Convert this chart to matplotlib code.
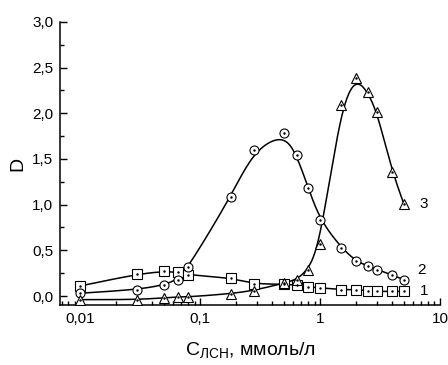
import numpy as np
import matplotlib
matplotlib.use('Agg')
import matplotlib.pyplot as plt
from matplotlib.ticker import FixedLocator, FixedFormatter, MultipleLocator, LogLocator, NullFormatter

plt.rcParams['font.family'] = ['Liberation Sans', 'DejaVu Sans']
plt.rcParams['mathtext.fontset'] = 'custom'
plt.rcParams['mathtext.rm'] = 'Liberation Sans'
plt.rcParams['mathtext.it'] = 'Liberation Sans'

# concentrations, mmol/l
conc = [0.01, 0.03, 0.05, 0.065, 0.08, 0.18, 0.28, 0.5, 0.64, 0.8, 1.0, 1.5, 2.0, 2.5, 3.0, 4.0, 5.0]

# curve 1 (squares)
d1 = [0.11, 0.24, 0.27, 0.26, 0.23, 0.20, 0.13, 0.13, 0.12, 0.10, 0.09, 0.07, 0.07, 0.06, 0.05, 0.05, 0.05]
# curve 2 (circles)
d2 = [0.03, 0.07, 0.12, 0.18, 0.32, 1.08, 1.60, 1.78, 1.54, 1.18, 0.83, 0.53, 0.38, 0.33, 0.29, 0.23, 0.18]
# curve 3 (triangles)
d3 = [-0.04, -0.04, -0.02, -0.01, -0.01, 0.025, 0.06, 0.14, 0.18, 0.29, 0.57, 2.09, 2.39, 2.23, 2.01, 1.36, 1.01]

curve_labels = ['1', '2', '3']
markers = ['s', 'o', '^']


def bspline(x, y, n=30):
    # uniform cubic B-spline with the data points as control points (log x),
    # ends clamped by repeating the end points
    px = np.log10(np.asarray(x, float))
    py = np.asarray(y, float)
    px = np.concatenate([[px[0]] * 2, px, [px[-1]] * 2])
    py = np.concatenate([[py[0]] * 2, py, [py[-1]] * 2])
    t = np.linspace(0, 1, n)
    b0 = (1 - t) ** 3 / 6
    b1 = (3 * t ** 3 - 6 * t ** 2 + 4) / 6
    b2 = (-3 * t ** 3 + 3 * t ** 2 + 3 * t + 1) / 6
    b3 = t ** 3 / 6
    xs, ys = [], []
    for i in range(len(px) - 3):
        xs.append(b0 * px[i] + b1 * px[i + 1] + b2 * px[i + 2] + b3 * px[i + 3])
        ys.append(b0 * py[i] + b1 * py[i + 1] + b2 * py[i + 2] + b3 * py[i + 3])
    return 10 ** np.concatenate(xs), np.concatenate(ys)


fig = plt.figure(figsize=(4.48, 3.65), dpi=100)
ax = fig.add_axes([0.134, 0.164, 0.848, 0.776])

for d, m in zip([d1, d2, d3], markers):
    xs, ys = bspline(conc, d)
    ax.plot(xs, ys, color='black', lw=1.1, zorder=2)
    ax.plot(conc, d, linestyle='none', marker=m, ms=6.5 if m != '^' else 7.5,
            mfc='white', mec='black', mew=0.8, zorder=3)
    ax.plot(conc, d, linestyle='none', marker='.', ms=1.5, color='black', zorder=4)

ax.text(7.4, 0.05, curve_labels[0], fontsize=11, va='center', ha='center')
ax.text(7.0, 0.28, curve_labels[1], fontsize=11, va='center', ha='center')
ax.text(7.3, 1.01, curve_labels[2], fontsize=11, va='center', ha='center')

ax.set_xscale('log')
ax.set_xlim(0.0068, 10)
ax.set_ylim(-0.10, 3.0)

ax.xaxis.set_major_locator(FixedLocator([0.01, 0.1, 1, 10]))
ax.xaxis.set_major_formatter(FixedFormatter(['0,01', '0,1', '1', '10']))
ax.xaxis.set_minor_locator(LogLocator(base=10, subs=np.arange(2, 10)))
ax.xaxis.set_minor_formatter(NullFormatter())

yt = [0.0, 0.5, 1.0, 1.5, 2.0, 2.5, 3.0]
ax.yaxis.set_major_locator(FixedLocator(yt))
ax.yaxis.set_major_formatter(FixedFormatter([f'{v:.1f}'.replace('.', ',') for v in yt]))
ax.yaxis.set_minor_locator(MultipleLocator(0.25))

for s in ['top', 'right']:
    ax.spines[s].set_visible(False)
for s in ['left', 'bottom']:
    ax.spines[s].set_linewidth(1.1)

ax.tick_params(which='major', direction='in', length=5, width=1, labelsize=11, pad=5)
ax.tick_params(which='minor', direction='in', length=3, width=1)

ax.set_ylabel('D', fontsize=14, labelpad=4)
ax.set_xlabel(r'C$_{\mathrm{ЛСН}}$, ммоль/л', fontsize=14, labelpad=10)

fig.savefig('out.png', dpi=100)
